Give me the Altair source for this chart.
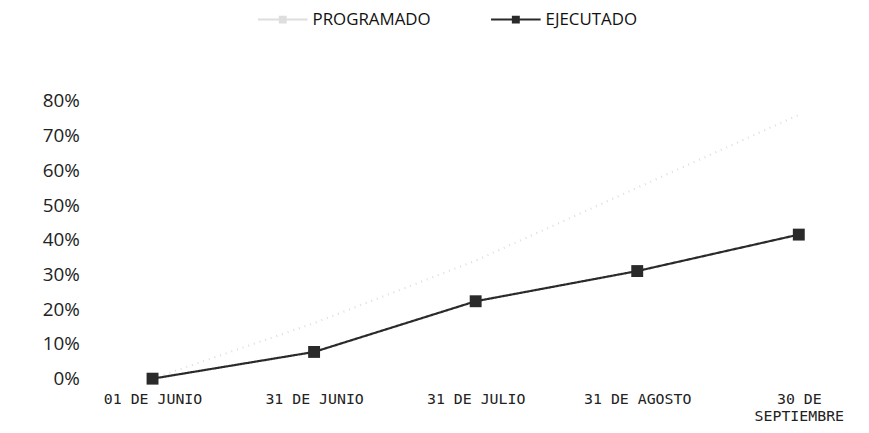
import altair as alt
import pandas as pd

fechas = ["01 DE JUNIO", "31 DE JUNIO", "31 DE JULIO", "31 DE AGOSTO", "30 DE SEPTIEMBRE"]
programado = [0.0, 0.16, 0.34, 0.55, 0.76]
ejecutado = [0.0, 0.077, 0.223, 0.31, 0.415]
series = ["PROGRAMADO", "EJECUTADO"]
y_ticks = [0.0, 0.1, 0.2, 0.3, 0.4, 0.5, 0.6, 0.7, 0.8]

rows = []
for f, p, e in zip(fechas, programado, ejecutado):
    rows.append({"fecha": f, "serie": series[0], "valor": p})
    rows.append({"fecha": f, "serie": series[1], "valor": e})
df = pd.DataFrame(rows)

FONT = "Open Sans"

x = alt.X("fecha:N", sort=fechas, title=None,
          scale=alt.Scale(type="point", padding=0.385),
          axis=alt.Axis(labelAngle=0, domain=False, ticks=False, labelFont="DejaVu Sans Mono",
                        labelFontSize=15, labelColor="#222", labelPadding=13, labelLineHeight=17,
                        labelBaseline="top",
                        labelExpr="datum.label == '30 DE SEPTIEMBRE' ? ['30 DE', 'SEPTIEMBRE'] : datum.label"))
y = alt.Y("valor:Q", title=None,
          scale=alt.Scale(domain=[0, 0.8], nice=False),
          axis=alt.Axis(values=y_ticks, format=".0%", grid=False, domain=False, ticks=False,
                        labelFont=FONT, labelFontSize=19, labelColor="#222", labelPadding=11))
color = alt.Color("serie:N", sort=series,
                  scale=alt.Scale(domain=series, range=["#dedede", "#2a2a2a"]),
                  legend=alt.Legend(title=None, orient="none", legendX=168, legendY=-108,
                                    direction="horizontal", labelFont=FONT, labelFontSize=17,
                                    labelColor="#111",
                                    symbolType="M-1,0L1,0M-0.12,-0.12H0.12V0.12H-0.12Z",
                                    symbolSize=2500, symbolStrokeWidth=2, columnPadding=56,
                                    labelOffset=4))

base = alt.Chart(df)
lines = base.mark_line(strokeWidth=2.2).encode(
    x=x, y=y, color=color,
    strokeDash=alt.condition(alt.datum.serie == "PROGRAMADO", alt.value([1, 5]), alt.value([1, 0])),
)
points = base.mark_point(shape="square", filled=True, size=144, opacity=1).encode(
    x=x, y=y, color=color,
    opacity=alt.condition(alt.datum.serie == "EJECUTADO", alt.value(1), alt.value(0)),
)

chart = alt.layer(lines, points).properties(
    width=777, height=280,
    padding={"left": 83, "top": 92, "right": 0, "bottom": 45},
    autosize=alt.AutoSizeParams(type="none"),
    background="white",
).configure_view(stroke=None)

chart.save("out.html", embed_options={"renderer": "svg", "actions": False})
